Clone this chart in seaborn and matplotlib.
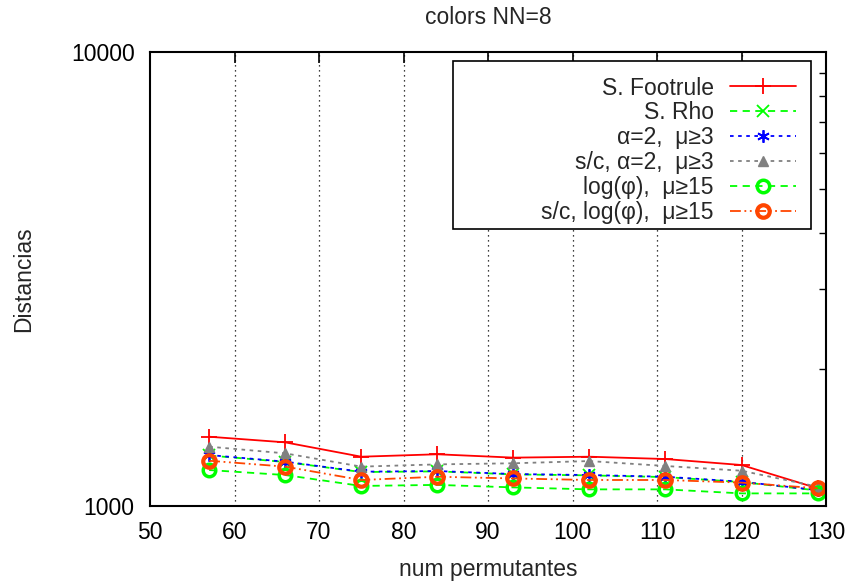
import matplotlib
matplotlib.use("Agg")
import matplotlib.pyplot as plt
import seaborn as sns
import numpy as np
from matplotlib.patches import Rectangle
from matplotlib.ticker import LogLocator, NullFormatter, FixedLocator, FixedFormatter

sns.set_theme(style="white")
plt.rcParams['font.family'] = ['Liberation Sans', 'DejaVu Sans']

x = [57, 66, 75, 84, 93, 102, 111, 120, 129]
footrule = [1421, 1381, 1284, 1300, 1278, 1284, 1269, 1231, 1094]
rho = [1292, 1250, 1188, 1192, 1174, 1168, 1158, 1129, 1082]
alpha2 = [1295, 1252, 1190, 1194, 1176, 1170, 1160, 1131, 1084]
sc_alpha2 = [1351, 1306, 1221, 1235, 1242, 1256, 1225, 1196, 1103]
logphi = [1200, 1170, 1107, 1113, 1099, 1088, 1088, 1066, 1066]
sc_logphi = [1258, 1221, 1141, 1160, 1150, 1141, 1141, 1126, 1094]

labels = ["S. Footrule", "S. Rho", "\u03b1=2,  \u03bc\u22653", "s/c, \u03b1=2,  \u03bc\u22653",
          "log(\u03c6),  \u03bc\u226515", "s/c, log(\u03c6),  \u03bc\u226515"]
xticks = [50, 60, 70, 80, 90, 100, 110, 120, 130]
yticks = [1000, 10000]

FS = 16.5

fig = plt.figure(figsize=(8.52, 5.84), dpi=100)
ax = fig.add_axes([150/852, 1-506/584, (826-150)/852, (506-52)/584])

styles = [
    dict(data=footrule, color="#ff0000", ls="-", marker="+", ms=11, mew=1.3, mfc="none"),
    dict(data=rho, color="#00ff00", ls=(0, (4, 3)), marker="x", ms=8, mew=1.3, mfc="none"),
    dict(data=alpha2, color="#0000ff", ls=(0, (2, 2.5)), marker=(6, 2, 0), ms=9, mew=1.3, mfc="none"),
    dict(data=sc_alpha2, color="#808080", ls=(0, (2, 2.5)), marker="^", ms=7, mew=1, mfc="#808080"),
    dict(data=logphi, color="#00ff00", ls=(0, (4, 3)), marker="o", ms=9, mew=2.5, mfc="none"),
    dict(data=sc_logphi, color="#ff4500", ls=(0, (6, 2, 1, 2, 1, 2)), marker="o", ms=9, mew=3, mfc="none"),
]

handles = []
for st, lab in zip(styles, labels):
    sns.lineplot(x=x, y=st["data"], ax=ax, color=st["color"], linestyle=st["ls"],
                 marker=st["marker"], markersize=st["ms"], markeredgewidth=st["mew"],
                 markerfacecolor=st["mfc"], markeredgecolor=st["color"], linewidth=1.3)
    h, = ax.plot([], [], color=st["color"], linestyle=st["ls"], marker=st["marker"],
                 markersize=st["ms"], markeredgewidth=st["mew"], markerfacecolor=st["mfc"],
                 markeredgecolor=st["color"], linewidth=1.3, label=lab)
    handles.append(h)

ax.set_yscale("log")
ax.set_xlim(50, 130)
ax.set_ylim(1000, 10000)
ax.xaxis.set_major_locator(FixedLocator(xticks))
ax.xaxis.set_major_formatter(FixedFormatter([str(v) for v in xticks]))
ax.yaxis.set_major_locator(FixedLocator(yticks))
ax.yaxis.set_major_formatter(FixedFormatter([str(v) for v in yticks]))
ax.yaxis.set_minor_locator(LogLocator(base=10, subs=np.arange(2, 10)))
ax.yaxis.set_minor_formatter(NullFormatter())

ax.tick_params(which="both", direction="in", top=True, right=True, labelsize=FS, colors="black")
ax.tick_params(which="major", length=8, width=1.2)
ax.tick_params(which="minor", length=5, width=1.0)
ax.tick_params(axis="x", pad=11)
ax.tick_params(axis="y", pad=11)

for v in xticks[1:-1]:
    ax.axvline(v, color="black", linestyle=(0, (1, 3)), linewidth=0.9, zorder=0)

for sp in ax.spines.values():
    sp.set_color("black")
    sp.set_linewidth(1.5)

ax.set_xlabel("num permutantes", fontsize=FS, labelpad=10)
ax.set_ylabel("Distancias", fontsize=FS, labelpad=26)
ax.set_title("colors NN=8", fontsize=FS, pad=20)

# legend frame (gnuplot-style wide key box)
ax.add_patch(Rectangle((0.448, 0.610), 0.978 - 0.448, 0.980 - 0.610, transform=ax.transAxes,
                       facecolor="white", edgecolor="black", linewidth=1.2, zorder=4))
leg = ax.legend(handles=handles, loc="upper right", markerfirst=False, fontsize=FS,
                frameon=False, handlelength=2.9, handletextpad=0.7, labelspacing=0.08,
                borderpad=0, borderaxespad=0, bbox_to_anchor=(0.956, 0.946))
leg.set_zorder(5)

fig.savefig("out.png", dpi=100)
